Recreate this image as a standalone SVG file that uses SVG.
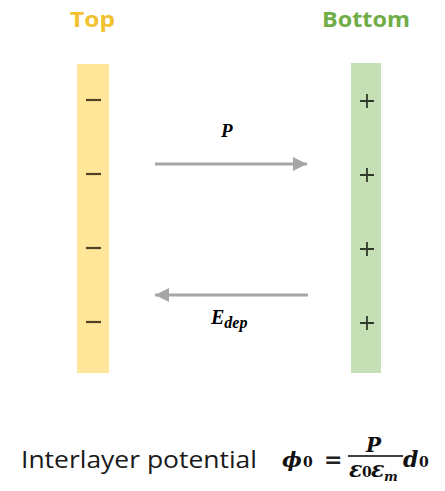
<svg xmlns="http://www.w3.org/2000/svg" width="445" height="491" viewBox="0 0 445 491">
<style>
.title{font-family:"Open Sans","Liberation Sans",sans-serif;font-weight:bold;font-size:22px}
.math{font-family:"Liberation Serif","DejaVu Serif",serif;font-weight:bold;font-style:italic}
.fm{font-family:"DejaVu Serif",serif;font-weight:bold;font-style:italic;fill:#111}
.fs{font-family:"DejaVu Serif",serif;font-weight:bold;font-style:normal;fill:#111}
.minus{stroke:#4f4026;stroke-width:2.2}
.plus{stroke:#2f3a2a;stroke-width:1.8}
.arrow{stroke:#a6a6a6;stroke-width:3;fill:none}
</style>
<defs>
<marker id="head" markerWidth="16" markerHeight="16" refX="14" refY="8" orient="auto" markerUnits="userSpaceOnUse">
<path d="M0,1 L14,8 L0,15 Z" fill="#a6a6a6"/>
</marker>
</defs>
<rect width="445" height="491" fill="#ffffff"/>
<g id="top-layer">
<text class="title" x="70" y="27" fill="#f2c12e" textLength="45" lengthAdjust="spacingAndGlyphs">Top</text>
<rect x="77" y="64" width="32" height="309" fill="#ffe699"/>
<line class="minus" x1="86" y1="100" x2="101" y2="100"/>
<line class="minus" x1="86" y1="174" x2="101" y2="174"/>
<line class="minus" x1="86" y1="248" x2="101" y2="248"/>
<line class="minus" x1="86" y1="322" x2="101" y2="322"/>
</g>
<g id="bottom-layer">
<text class="title" x="322" y="27" fill="#70ad47" textLength="88" lengthAdjust="spacingAndGlyphs">Bottom</text>
<rect x="351" y="63" width="30" height="310" fill="#c5e0b4"/>
<path class="plus" d="M360,101 H374 M367,94 V108"/>
<path class="plus" d="M360,175 H374 M367,168 V182"/>
<path class="plus" d="M360,249 H374 M367,242 V256"/>
<path class="plus" d="M360,323 H374 M367,316 V330"/>
</g>
<g id="connectors">
<line class="arrow" x1="155" y1="164" x2="307" y2="164" marker-end="url(#head)"/>
<line class="arrow" x1="308" y1="295" x2="155" y2="295" marker-end="url(#head)"/>
</g>
<g id="labels">
<text class="math" x="221" y="137" font-size="19">P</text>
<text class="math" x="211" y="324" font-size="20">E<tspan font-size="16" dy="4">dep</tspan></text>
</g>
<g id="formula">
<text x="21" y="468" font-family="Open Sans, Liberation Sans, sans-serif" font-size="24" fill="#1a1a1a" textLength="236" lengthAdjust="spacingAndGlyphs">Interlayer potential</text>
<text class="fm" x="282" y="467" font-size="21">ϕ</text>
<text class="fs" x="303" y="467" font-size="14">0</text>
<text x="324" y="467" font-family="DejaVu Sans, sans-serif" font-size="22" font-weight="bold" fill="#222">=</text>
<line x1="348" y1="456" x2="403" y2="456" stroke="#000" stroke-width="1.6"/>
<text class="fm" x="366" y="452" font-size="20">P</text>
<text class="fm" x="349" y="477" font-size="22">ε</text>
<text class="fs" x="362" y="477" font-size="14">0</text>
<text class="fm" x="371" y="477" font-size="22">ε</text>
<text class="fm" x="384" y="481" font-size="13">m</text>
<text class="fm" x="403" y="467" font-size="22">d</text>
<text class="fs" x="419" y="467" font-size="14">0</text>
</g>
</svg>
